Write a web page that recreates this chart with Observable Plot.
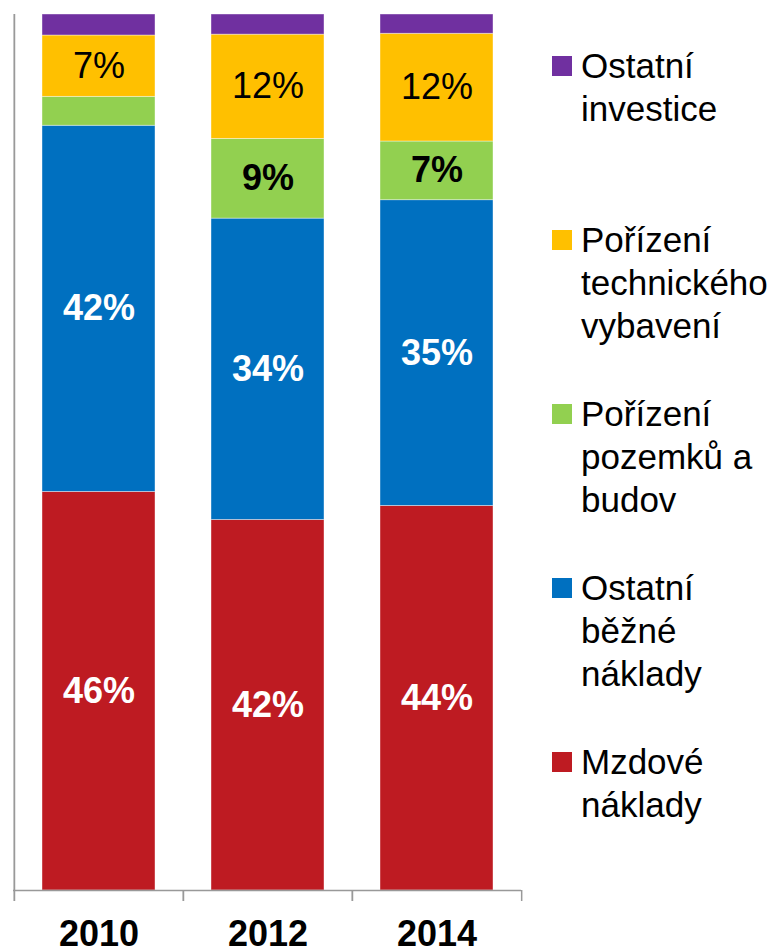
<!DOCTYPE html>
<html><head><meta charset="utf-8">
<script src="https://cdn.jsdelivr.net/npm/d3@7"></script>
<script src="https://cdn.jsdelivr.net/npm/@observablehq/plot@0.6"></script>
<style>
body{margin:0;background:#fff;}
#wrap{position:relative;width:783px;height:951px;font-family:"Liberation Sans",Arial,sans-serif;overflow:hidden}
#wrap svg{position:absolute;left:0;top:0}
#legend{position:absolute;left:552px;top:0;}
.item{position:absolute;left:0;display:flex;align-items:flex-start;white-space:nowrap}
.sw{width:20px;height:20px;margin-top:12px;margin-right:9px;flex:none}
.lab{font-size:35px;line-height:43px;color:#000}
g[aria-label="x-axis tick label"] text{font-weight:bold}
</style></head>
<body><div id="wrap"></div>
<script>
// ---- data ----
const years = ["2010", "2012", "2014"];
const series = ["Mzdové náklady", "Ostatní běžné náklady", "Pořízení pozemků a budov", "Pořízení technického vybavení", "Ostatní investice"];
const mzdove = [45.5, 42.3, 43.9];
const bezne = [41.8, 34.4, 34.9];
const pozemky = [3.3, 9.1, 6.7];
const technika = [7.0, 11.9, 12.3];
const investice = [2.4, 2.3, 2.2];
const legendLines = [["Mzdové", "náklady"], ["Ostatní", "běžné", "náklady"], ["Pořízení", "pozemků a", "budov"], ["Pořízení", "technického", "vybavení"], ["Ostatní", "investice"]];
const colors = ["#BE1B22", "#0070C0", "#92D050", "#FFC000", "#7030A0"];

// ---- table ----
const valuesBySeries = [mzdove, bezne, pozemky, technika, investice];
const table = [];
years.forEach((yr, j) => series.forEach((s, k) => table.push({year: yr, series: s, k, value: valuesBySeries[k][j]})));

const W = 783, H = 951, mL = 13, mR = 262, mT = 14, mB = 61;
const step = (W - mL - mR) / years.length;
const font = '"Liberation Sans", Arial, sans-serif';
const lbl = (d) => d.value >= 5 ? Math.round(d.value) + "%" : "";

const chart = Plot.plot({
  width: W, height: H,
  marginLeft: mL, marginRight: mR, marginTop: mT, marginBottom: mB,
  style: {fontFamily: font, background: "transparent"},
  x: {type: "band", domain: years, paddingInner: 1/3, paddingOuter: 1/6, label: null},
  y: {domain: [0, 100], axis: null},
  color: {domain: series, range: colors},
  marks: [
    Plot.barY(table, {x: "year", y: "value", fill: "series", order: null, stroke: "white", strokeOpacity: 0.5, strokeWidth: 0.8}),
    Plot.text(table, Plot.stackY({x: "year", y: "value", order: null, text: (d) => d.k <= 1 ? lbl(d) : "", fill: "white", fontSize: 36, fontWeight: "bold"})),
    Plot.text(table, Plot.stackY({x: "year", y: "value", order: null, text: (d) => d.k === 2 ? lbl(d) : "", fill: "black", fontSize: 36, fontWeight: "bold"})),
    Plot.text(table, Plot.stackY({x: "year", y: "value", order: null, text: (d) => d.k === 3 ? lbl(d) : "", fill: "black", fontSize: 36})),
    Plot.ruleY([0], {stroke: "#999", strokeWidth: 1.5}),
    Plot.ruleX(years, {x: (d) => d, dx: -step / 2, y1: (d, i) => i === 0 ? 100 : 0, y2: 0, insetBottom: -11, stroke: "#999", strokeWidth: 1.8}),
    Plot.ruleX([years[years.length - 1]], {x: (d) => d, dx: step / 2, y1: 0, y2: 0, insetBottom: -11, stroke: "#999", strokeWidth: 1.5}),
    Plot.axisX({tickSize: 0, tickPadding: 30, fontSize: 36, fontWeight: "bold", fill: "black", label: null})
  ]
});

const wrap = document.getElementById("wrap");
wrap.appendChild(chart);

// ---- legend (top item = top of stack) ----
const legend = document.createElement("div");
legend.id = "legend";
const order = series.map((s, k) => k).reverse();
order.forEach((k, i) => {
  const item = document.createElement("div");
  item.className = "item";
  item.style.top = (43.5 + i * 174.2) + "px";
  const sw = document.createElement("div");
  sw.className = "sw";
  sw.style.background = colors[k];
  const lab = document.createElement("div");
  lab.className = "lab";
  lab.innerHTML = legendLines[k].join("<br>");
  item.appendChild(sw);
  item.appendChild(lab);
  legend.appendChild(item);
});
wrap.appendChild(legend);
</script>
</body></html>
